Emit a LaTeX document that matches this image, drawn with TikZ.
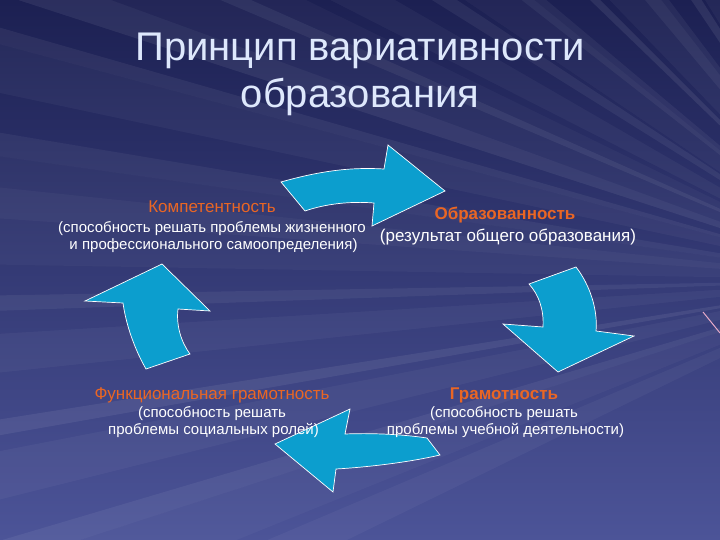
\documentclass[tikz,border=0pt]{standalone}
\usepackage{fontspec}
\setmainfont{Liberation Sans}
\usetikzlibrary{calc}
\definecolor{bgtop}{RGB}{28,32,82}
\definecolor{bgbot}{RGB}{76,84,152}
\definecolor{arrowblue}{RGB}{12,158,206}
\definecolor{labelorange}{RGB}{234,102,36}
\definecolor{titlecol}{RGB}{222,232,252}
\definecolor{pinkline}{RGB}{230,170,200}
\tikzset{
  cyclearrow/.style={fill=arrowblue, draw=white, line width=0.7pt, line join=miter},
  ray/.style={fill=white},
  titletext/.style={anchor=base, text=titlecol, font=\fontsize{40}{45}\selectfont, inner sep=0pt},
  labeltext/.style={anchor=base, text=labelorange, font=\fontsize{17}{20}\selectfont, inner sep=0pt},
  labelbold/.style={anchor=base, text=labelorange, font=\fontsize{17}{20}\selectfont\bfseries, inner sep=0pt},
  desctext/.style={anchor=base, text=white, font=\fontsize{15}{18}\selectfont, inner sep=0pt},
  descbig/.style={anchor=base, text=white, font=\fontsize{17}{20}\selectfont, inner sep=0pt}
}
\begin{document}
\begin{tikzpicture}[x=1pt, y=-1pt]
\useasboundingbox (0,0) rectangle (720,540);
\begin{scope}
  \clip (0,0) rectangle (720,540);
  \shade[top color=bgtop, bottom color=bgbot] (0,0) rectangle (720,540);
  \coordinate (F) at (880,280);
  \foreach \a/\w/\o in {198/2/0.07, 195/1/0.06, 192/3/0.04, 188/1.5/0.05, 184/4/0.03,
      178/1/0.06, 174/2.5/0.04, 170/1/0.07, 166/3/0.04, 162/1.5/0.06, 158/4/0.03,
      203/1/0.06, 207/3/0.04, 212/1.5/0.06, 218/2/0.05, 224/1/0.08, 230/3/0.05,
      236/1.5/0.08, 242/2/0.06, 154/3/0.04, 200/6/0.03, 181/5/0.03, 214/5/0.03,
      226/6/0.04, 238/5/0.04, 246/3/0.05}
  {
    \fill[ray, opacity=\o] (F) -- ($(F)+(\a:1200)$) -- ($(F)+(\a+\w:1200)$) -- cycle;
  }
  \coordinate (P1) at (703,312);
  \coordinate (P2) at (720,333);
  \draw[pinkline, line width=1pt] (P1) -- (P2);
\end{scope}

% title
\node[titletext] (t1) at (360,61) {Принцип вариативности};
\node[titletext] (t2) at (360,108) {образования};

% arrows
\filldraw[cyclearrow] (281,182) .. controls (320,171) and (350,167) .. (384,169)
   -- (388,145) -- (445,191) -- (372,226) -- (374,203)
   .. controls (350,201) and (325,204) .. (305,211) -- cycle;

\filldraw[cyclearrow] (529,284) -- (576,267) .. controls (590,285) and (598,310) .. (596,331)
   -- (634,336) -- (558,372) -- (503,324) -- (543,327)
   .. controls (544,310) and (539,295) .. (529,284) -- cycle;

\filldraw[cyclearrow] (275,444) -- (350,409) -- (345,434)
   .. controls (370,433) and (400,434) .. (427,438) -- (440,455)
   .. controls (410,462) and (370,467) .. (336,469) -- (333,492) -- cycle;

\filldraw[cyclearrow] (162,264) -- (210,311) -- (178,309)
   .. controls (176,325) and (181,342) .. (190,354) -- (146,369)
   .. controls (135,350) and (126,325) .. (123,303) -- (85,301) -- cycle;

% texts
\node[labeltext] (komp) at (212,213) {Компетентность};
\node[desctext] (komp1) at (212,232.5) {(способность решать проблемы жизненного};
\node[desctext] (komp2) at (213.5,249.5) {и профессионального самоопределения)};

\node[labelbold] (obr) at (505,220) {Образованность};
\node[descbig] (obr1) at (508,241) {(результат общего образования)};

\node[labeltext] (func) at (212,399.5) {Функциональная грамотность};
\node[desctext] (func1) at (212,417) {(способность решать};
\node[desctext] (func2) at (213.5,434.5) {проблемы социальных ролей)};

\node[labelbold] (gram) at (504,399.5) {Грамотность};
\node[desctext] (gram1) at (504,417) {(способность решать};
\node[desctext] (gram2) at (505.5,434.5) {проблемы учебной деятельности)};
\end{tikzpicture}
\end{document}
